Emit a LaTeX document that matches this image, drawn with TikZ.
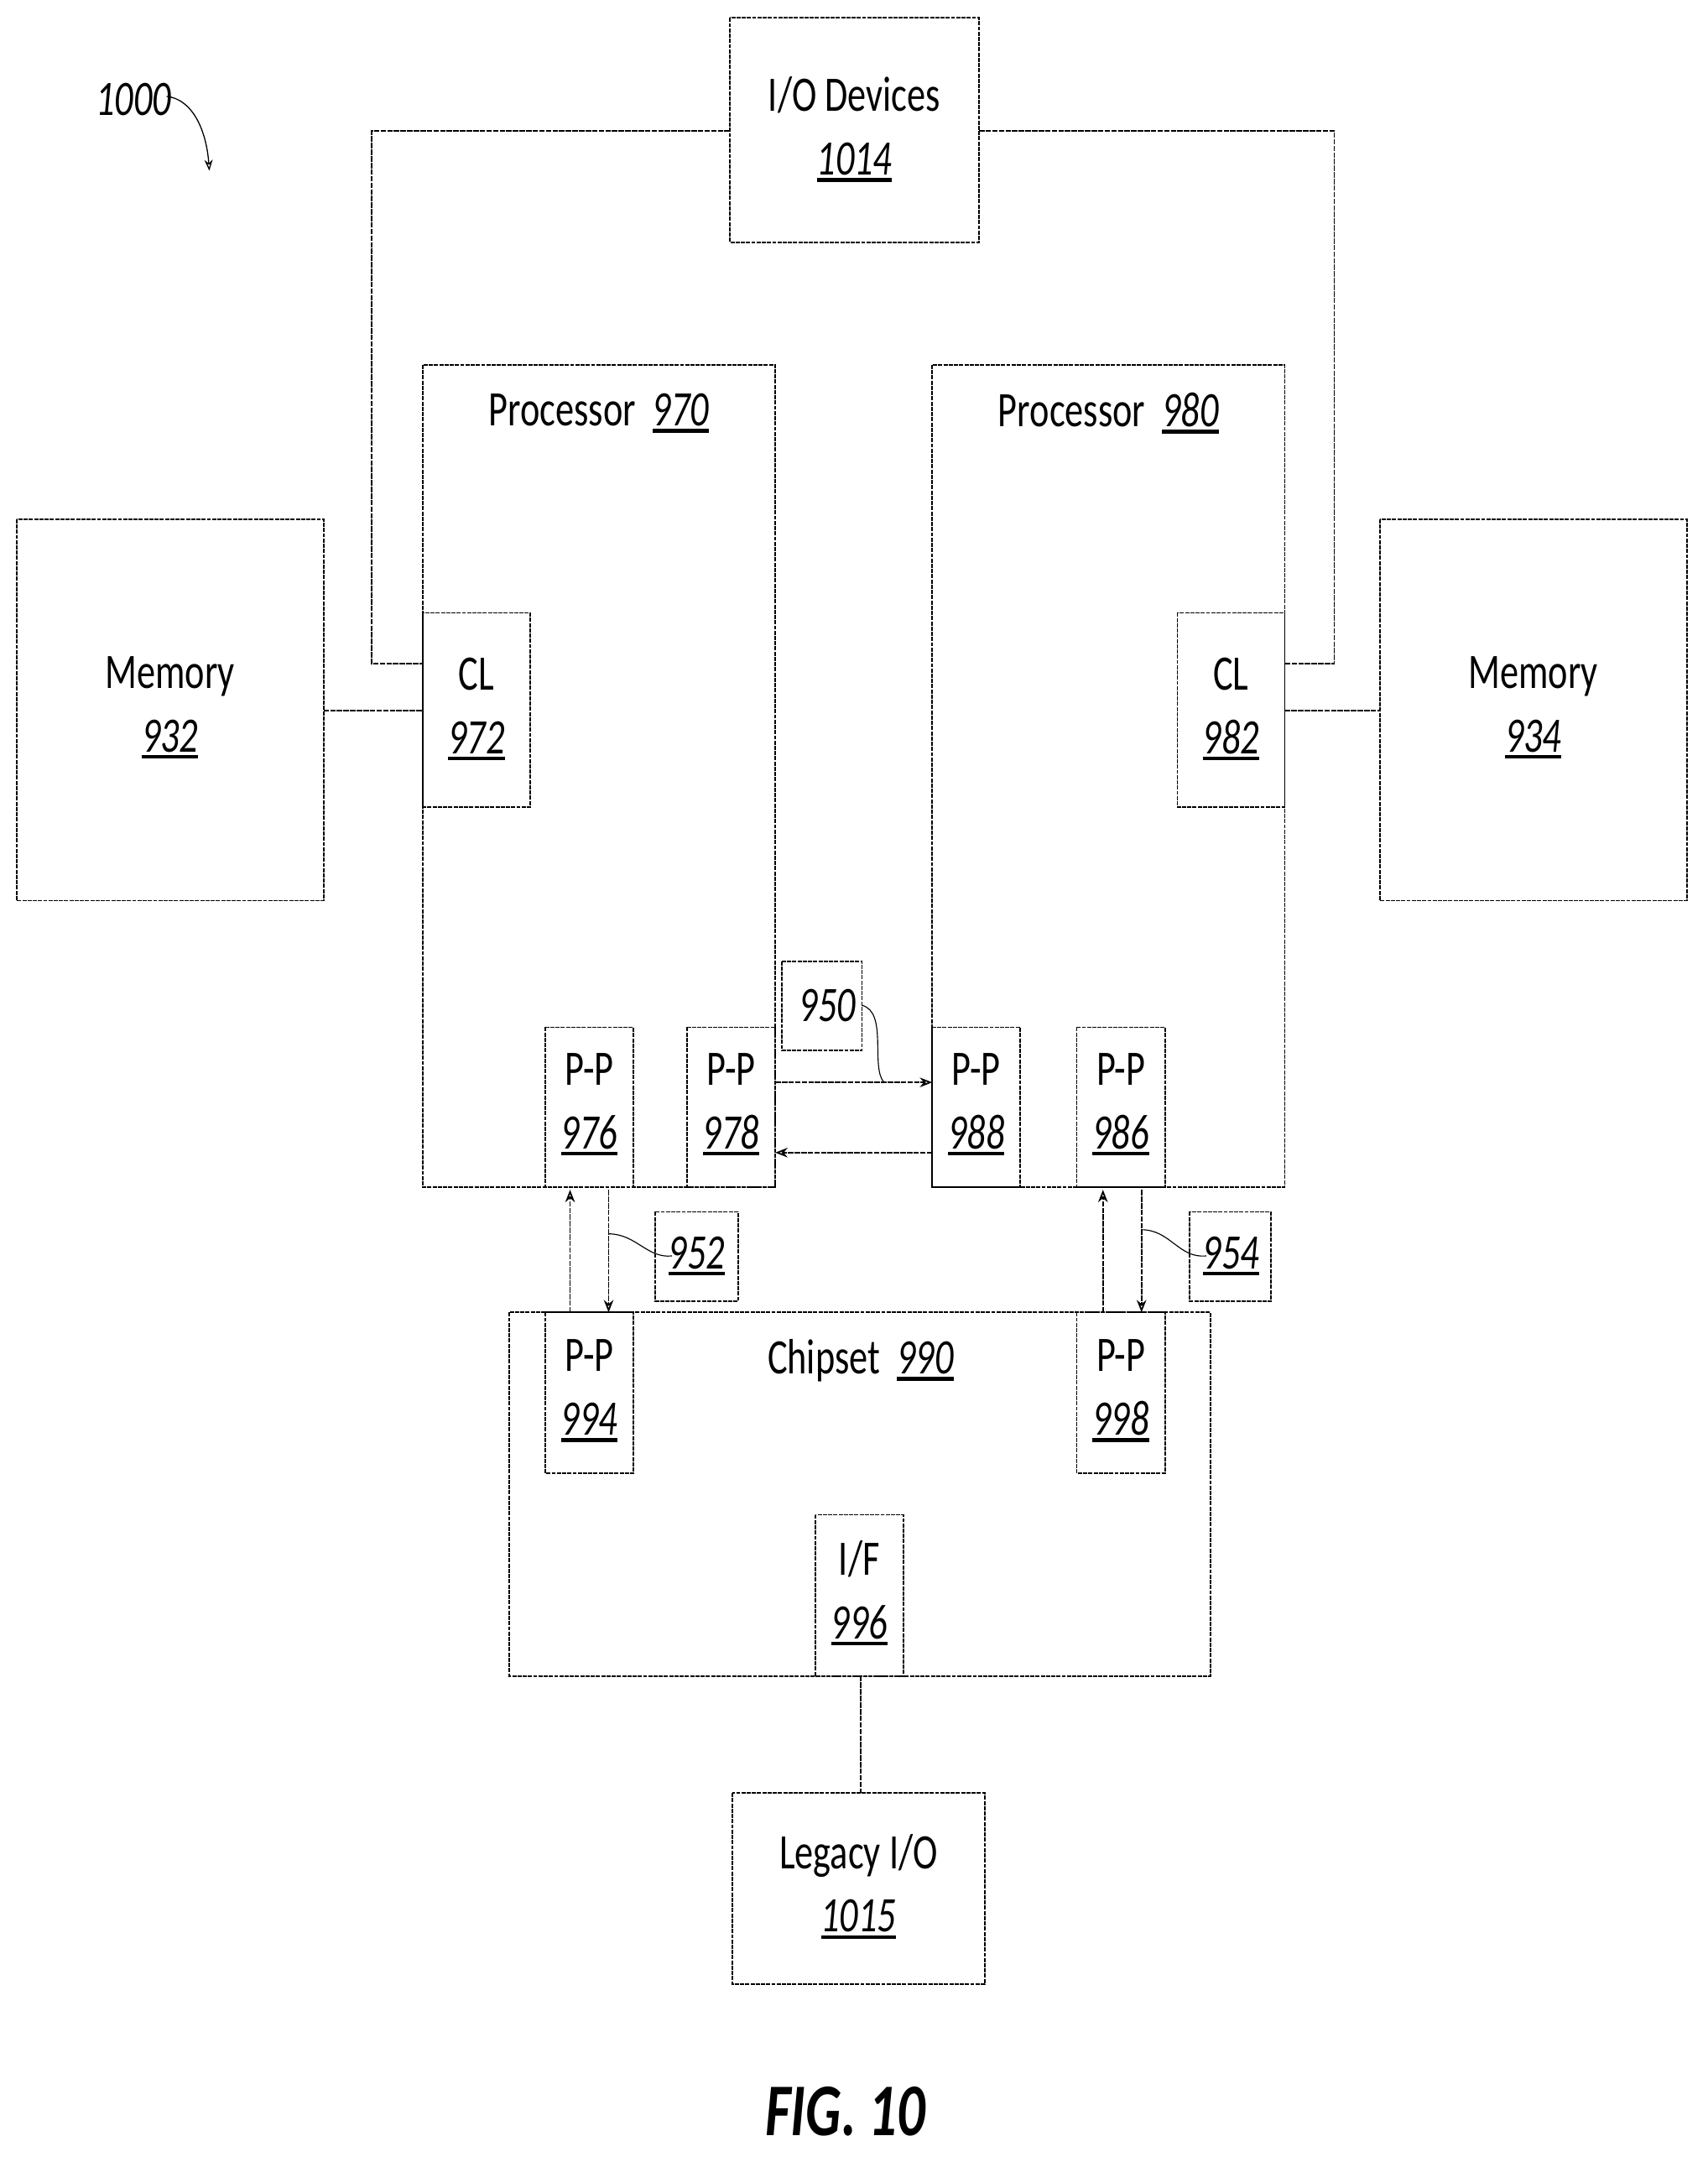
\documentclass[tikz,border=0pt]{standalone}
\usepackage{fontspec}
\setmainfont{Carlito}[FakeStretch=0.75]
\usetikzlibrary{arrows.meta}
\begin{document}
\begin{tikzpicture}[x=1pt,y=-1pt,
  bx/.style={draw,line width=1.1pt,dash pattern=on 3pt off 0.8pt},
  ln/.style={draw,line width=1.1pt,dash pattern=on 4pt off 0.8pt},
  ar/.style={ln,-{Stealth[length=9pt,width=7pt,open]}},
  lbl/.style={font=\fontsize{36}{42}\selectfont,align=center,inner sep=0},
  num/.style={font=\fontsize{36}{42}\selectfont\itshape,inner sep=0}]
\useasboundingbox (0,0) rectangle (1240,1570);
\newcommand{\un}[1]{\setbox0\hbox{#1}\leavevmode\rlap{\raisebox{-5pt}{\rule{\wd0}{2.6pt}}}\box0}
% 1000
\node[num] (n1000) at (97,72) {1000};
\coordinate (a1000) at (152,124);
\draw[line width=0.8pt,-{Stealth[length=8pt,open]}] (121,70) .. controls (140,72) and (150,95) .. (a1000);
% IO devices
\draw[bx] (530,13) rectangle (711,176);
\node[lbl] (io) at (620.5,94) {I/O Devices\\[4pt] \textit{\un{1014}}};
\coordinate (ioL) at (530,95); \coordinate (ioR) at (711,95);
% processors
\draw[bx] (307,265) rectangle (563,862);
\node[lbl] (p970) at (435,300) {Processor\ \ \textit{\un{970}}};
\draw[bx] (677,265) rectangle (933,862);
\node[lbl] (p980) at (805,300) {Processor\ \ \textit{\un{980}}};
% CL
\draw[bx] (307,445) rectangle (385,586);
\node[lbl] (cl972) at (346,515) {CL\\[4pt] \textit{\un{972}}};
\draw[bx] (855,445) rectangle (933,586);
\node[lbl] (cl982) at (894,515) {CL\\[4pt] \textit{\un{982}}};
% memories
\draw[bx] (12,377) rectangle (235,654);
\node[lbl] (m932) at (123.5,514) {Memory\\[4pt] \textit{\un{932}}};
\draw[bx] (1002,377) rectangle (1225,654);
\node[lbl] (m934) at (1113.5,514) {Memory\\[4pt] \textit{\un{934}}};
\draw[ln] (235,516) -- (307,516);
\draw[ln] (933,516) -- (1002,516);
\draw[ln] (ioL) -- (270,95) -- (270,482) -- (307,482);
\draw[ln] (ioR) -- (969,95) -- (969,482) -- (933,482);
% P-P in processors
\foreach \x/\t in {396/976,499/978,677/988,782/986}{
  \draw[bx] (\x,746) rectangle (\x+64,862);
  \node[lbl] (pp\t) at (\x+32,802) {P-P\\[4pt] \textit{\un{\t}}};
}
\draw[ar] (563,786) -- (677,786);
\draw[ar] (677,837) -- (563,837);
\draw[bx] (568,698) rectangle (626,763);
\node[num] (n950) at (601,730) {950};
\draw[line width=0.7pt] (626,730) .. controls (645,735) and (632,775) .. (642,786);
% chipset
\draw[bx] (370,953) rectangle (879,1217);
\node[lbl] (cs) at (625,988) {Chipset\ \ \textit{\un{990}}};
\draw[bx] (396,953) rectangle (460,1070);
\node[lbl] (pp994) at (428,1010) {P-P\\[4pt] \textit{\un{994}}};
\draw[bx] (782,953) rectangle (846,1070);
\node[lbl] (pp998) at (814,1010) {P-P\\[4pt] \textit{\un{998}}};
\draw[bx] (592,1100) rectangle (656,1217);
\node[lbl] (if996) at (624,1157) {I/F\\[4pt] \textit{\un{996}}};
% vertical arrows
\draw[ar] (414,953) -- (414,864);
\draw[ar] (442,864) -- (442,953);
\draw[ar] (801,953) -- (801,864);
\draw[ar] (829,864) -- (829,953);
\draw[bx] (476,880) rectangle (536,945);
\node[num] (n952) at (506,912) {\un{952}};
\draw[line width=0.7pt] (442,896) .. controls (462,896) and (470,914) .. (488,912);
\draw[bx] (864,880) rectangle (923,945);
\node[num] (n954) at (894,912) {\un{954}};
\draw[line width=0.7pt] (829,893) .. controls (850,893) and (856,914) .. (876,912);
% legacy
\draw[ln] (625,1217) -- (625,1302);
\draw[bx] (532,1302) rectangle (715,1441);
\node[lbl] (leg) at (623.5,1370) {Legacy I/O\\[4pt] \textit{\un{1015}}};
\node[font=\fontsize{54}{60}\selectfont\bfseries\itshape] (fig) at (614,1533) {FIG. 10};
\end{tikzpicture}
\end{document}
